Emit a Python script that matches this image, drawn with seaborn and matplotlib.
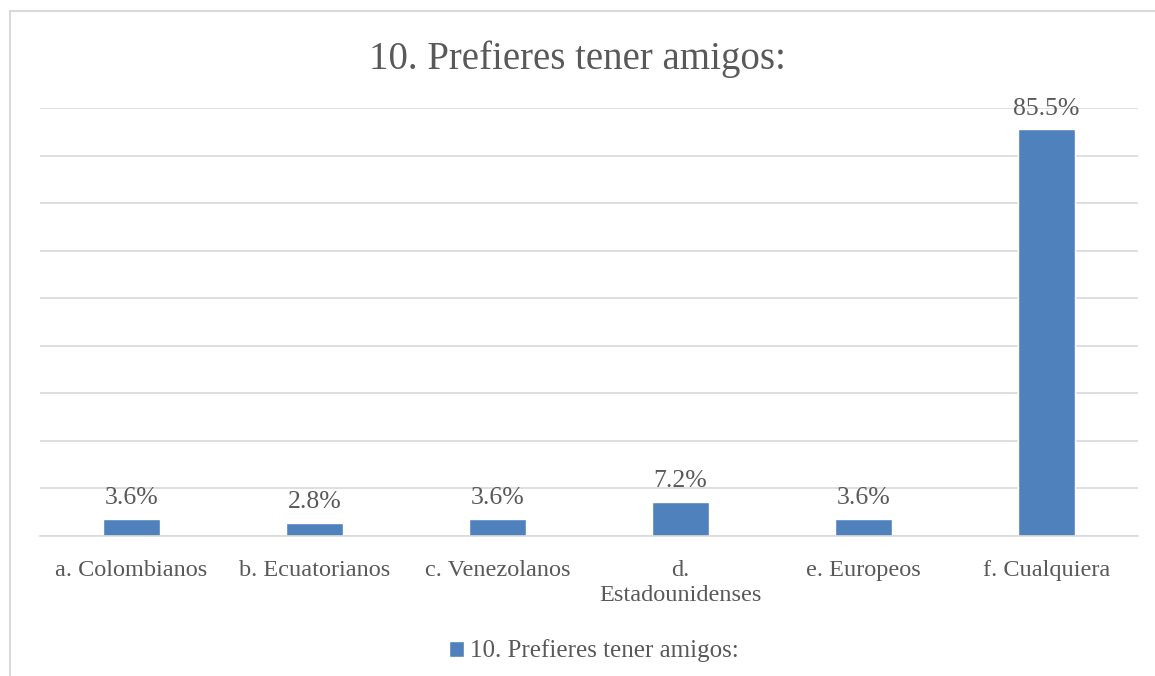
import matplotlib
matplotlib.use("Agg")
import matplotlib.pyplot as plt
import matplotlib.patches as mpatches
import seaborn as sns
import pandas as pd

categories = ["a. Colombianos", "b. Ecuatorianos", "c. Venezolanos",
              "d.\nEstadounidenses", "e. Europeos", "f. Cualquiera"]
values = [3.6, 2.8, 3.6, 7.2, 3.6, 85.5]
series_name = "10. Prefieres tener amigos:"

df = pd.DataFrame({"cat": categories, "val": values})

sns.set_style("white")
plt.rcParams["font.family"] = ["Liberation Serif", "DejaVu Serif"]
txt = "#595959"
grid = "#D9D9D9"
bar_color = "#4F81BD"

fig = plt.figure(figsize=(11.55, 6.76), dpi=100)
ax = fig.add_axes([40/1155, 1 - 536/676, (1138 - 40)/1155, (536 - 108)/676])

sns.barplot(data=df, x="cat", y="val", color=bar_color, width=0.31,
            saturation=1, ax=ax, label=series_name)

ax.set_ylim(0, 90)
ax.set_xlim(-0.5, 5.5)
ax.set_yticks(range(0, 91, 10))
ax.set_yticklabels([])
ax.yaxis.grid(True, color=grid, linewidth=1.2)
ax.set_axisbelow(True)
for s in ["left", "right", "top"]:
    ax.spines[s].set_visible(False)
ax.spines["bottom"].set_color(grid)
ax.spines["bottom"].set_linewidth(1.2)
ax.tick_params(axis="both", length=0)
ax.tick_params(axis="x", pad=17, labelsize=17.5, labelcolor=txt)
for lab in ax.get_xticklabels():
    lab.set_linespacing(1.3)
ax.set_xlabel("")
ax.set_ylabel("")

ax.bar_label(ax.containers[0], fmt="%.1f%%", padding=7, fontsize=18.5, color=txt)

fig.suptitle(series_name, y=1 - 59/676, va="center", fontsize=28, color=txt)

leg = ax.legend(loc="center", bbox_to_anchor=(594/1155, 1 - 651/676),
                bbox_transform=fig.transFigure, frameon=False, fontsize=18,
                handlelength=0.6, handleheight=0.6, handletextpad=0.25)
for t in leg.get_texts():
    t.set_color(txt)

# chart frame (only left and top edges visible in the crop)
frame = mpatches.Rectangle((10/1155, -0.2), 1.3, 1 - 11/676 + 0.2,
                           transform=fig.transFigure, fill=False,
                           edgecolor=grid, linewidth=1.5, clip_on=False)
fig.patches.append(frame)

fig.savefig("out.png", dpi=100)
